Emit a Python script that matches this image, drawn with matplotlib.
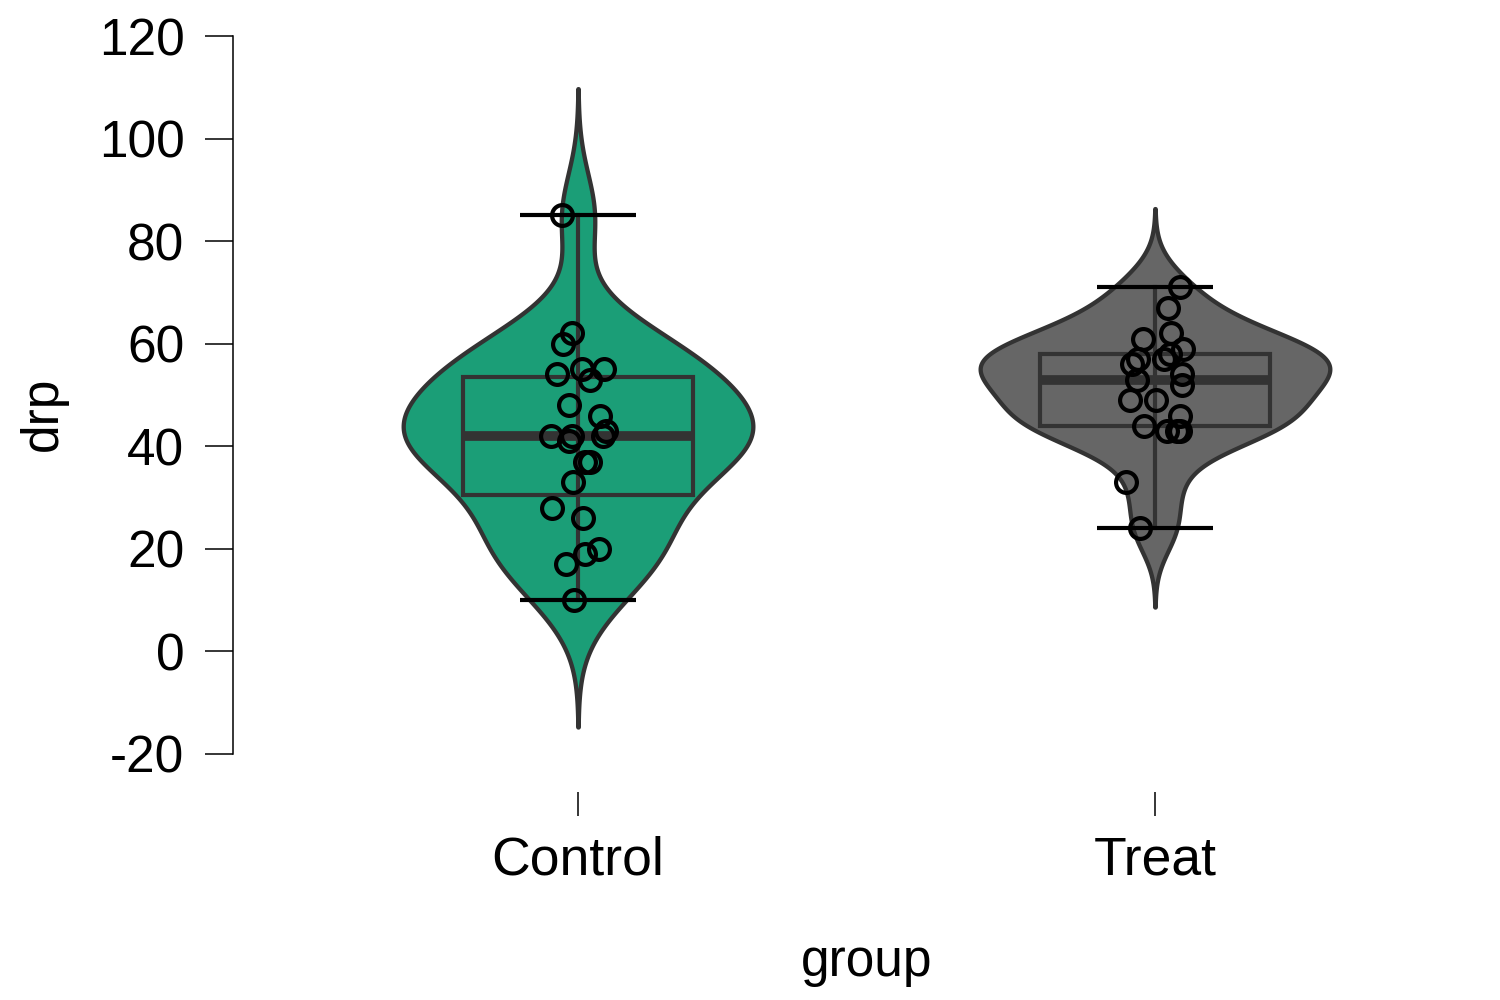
import numpy as np
import matplotlib
matplotlib.use("Agg")
import matplotlib.pyplot as plt

plt.rcParams['font.family'] = ['Liberation Sans', 'DejaVu Sans']

# data (drp scores per group)
groups = ["Control", "Treat"]
control = [42, 33, 46, 37, 43, 41, 10, 42, 55, 19, 17, 55, 26, 54, 60, 28, 62, 20, 53, 48, 37, 85, 42]
treat = [24, 43, 58, 71, 43, 49, 61, 44, 67, 49, 53, 56, 59, 52, 62, 54, 57, 33, 46, 43, 57]
# horizontal jitter of the points (in group units)
control_jitter = [-0.047, -0.009, 0.038, 0.012, 0.049, -0.016, -0.007, -0.010, 0.007, 0.012, -0.021,
                  0.045, 0.009, -0.036, -0.026, -0.045, -0.010, 0.036, 0.021, -0.016, 0.021, -0.028, 0.043]
treat_jitter = [-0.026, 0.021, 0.026, 0.043, 0.043, -0.043, -0.021, -0.019, 0.023, 0.002, -0.031,
                -0.040, 0.049, 0.047, 0.028, 0.047, 0.016, -0.050, 0.043, 0.038, -0.029]
colors = ["#1B9E77", "#666666"]
yticks = [-20, 0, 20, 40, 60, 80, 100, 120]


def bw_nrd0(x):
    x = np.asarray(x, float)
    sd = np.std(x, ddof=1)
    iqr = np.subtract(*np.percentile(x, [75, 25]))
    return 0.9 * min(sd, iqr / 1.34) * len(x) ** -0.2


def kde(x, cut=3, n=512):
    x = np.asarray(x, float)
    bw = bw_nrd0(x)
    grid = np.linspace(x.min() - cut * bw, x.max() + cut * bw, n)
    dens = np.exp(-0.5 * ((grid[:, None] - x[None, :]) / bw) ** 2).sum(axis=1)
    return grid, dens / dens.max()


fig = plt.figure(figsize=(15, 10), dpi=100)
ax = fig.add_axes([233 / 1500, 1 - 792 / 1000, 1 - 233 / 1500, (792 - 36) / 1000])

dark = "#333333"
half_violin = 0.303
half_box = 0.2
half_cap = 0.1

for i, (vals, jit, col) in enumerate(zip([control, treat], [control_jitter, treat_jitter], colors)):
    grid, dens = kde(vals)
    ax.fill_betweenx(grid, i - dens * half_violin, i + dens * half_violin,
                     facecolor=col, edgecolor=dark, linewidth=3.1, zorder=1)
    q1, med, q3 = np.percentile(vals, [25, 50, 75])
    lo, hi = min(vals), max(vals)
    # whisker line
    ax.plot([i, i], [lo, hi], color=dark, lw=3, zorder=2)
    # box
    ax.add_patch(plt.Rectangle((i - half_box, q1), 2 * half_box, q3 - q1,
                               facecolor="none", edgecolor=dark, lw=3, zorder=3))
    ax.plot([i - half_box, i + half_box], [med, med], color=dark, lw=7, zorder=3,
            solid_capstyle="butt")
    # caps
    for v in (lo, hi):
        ax.plot([i - half_cap, i + half_cap], [v, v], color="black", lw=3, zorder=4,
                solid_capstyle="butt")
    # points
    ax.plot(i + np.array(jit), vals, linestyle="none", marker="o", markersize=15,
            markerfacecolor="none", markeredgecolor="black", markeredgewidth=3, zorder=5)

ax.set_xlim(-0.598, 1.598)
ax.set_ylim(-27.41, 120)
ax.set_xticks([0, 1])
ax.set_xticklabels(groups)
ax.set_yticks(yticks)
ax.set_yticklabels([str(t) for t in yticks])

for s in ["top", "right", "bottom"]:
    ax.spines[s].set_visible(False)
ax.spines["left"].set_bounds(-20, 120)
ax.spines["left"].set_linewidth(1.1)

ax.tick_params(axis="y", length=20, width=1.1, pad=15, labelsize=37)
ax.tick_params(axis="x", length=17, width=1.1, pad=14, labelsize=38.5)

ax.set_xlabel("group", fontsize=37, labelpad=38)
ax.set_ylabel("drp", fontsize=37, labelpad=22)

fig.savefig("out.png", dpi=100)
